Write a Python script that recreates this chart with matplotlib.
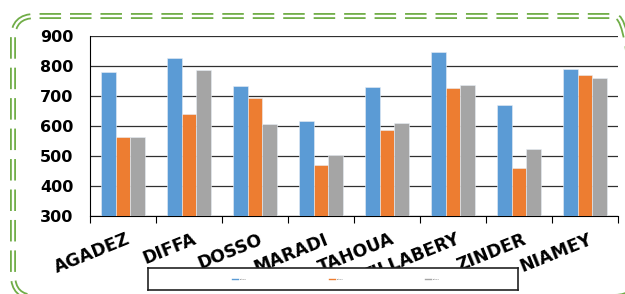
import matplotlib
matplotlib.use("Agg")
import matplotlib.pyplot as plt
import numpy as np
from matplotlib.patches import FancyBboxPatch

categories = ["AGADEZ", "DIFFA", "DOSSO", "MARADI", "TAHOUA", "TILLABERY", "ZINDER", "NIAMEY"]
series_names = ["Série1", "Série2", "Série3"]
s1 = [780, 827, 733, 617, 730, 847, 670, 790]
s2 = [563, 640, 693, 470, 587, 727, 460, 770]
s3 = [563, 787, 607, 503, 610, 737, 523, 760]
colors = ["#5B9BD5", "#ED7D31", "#A5A5A5"]

W, H = 625, 294
fig = plt.figure(figsize=(W / 100, H / 100), dpi=100)
fig.patch.set_facecolor("white")

ax = fig.add_axes([90 / W, 1 - 216 / H, (618 - 90) / W, (216 - 36) / H])
x = np.arange(len(categories))
bw = 0.222
for i, (vals, c) in enumerate(zip([s1, s2, s3], colors)):
    ax.bar(x + (i - 1) * bw, np.array(vals) - 300, bottom=300, width=bw,
           color=c, edgecolor="#e8eef5", linewidth=0.4, zorder=3, label=series_names[i])

ax.set_xlim(-0.5, len(categories) - 0.5)
ax.set_ylim(300, 900)
ax.set_yticks(range(300, 901, 100))
ax.yaxis.grid(True, color="#303030", linewidth=0.9, zorder=0)
ax.set_axisbelow(True)
for s in ["top", "right"]:
    ax.spines[s].set_visible(False)
ax.spines["left"].set_color("black")
ax.spines["bottom"].set_color("black")
ax.tick_params(axis="y", length=0, pad=12)
ax.set_xticks(np.arange(-0.5, len(categories), 1.0))
ax.set_xticklabels([])
ax.tick_params(axis="x", which="major", direction="out", length=5, color="black")
for lab in ax.get_yticklabels():
    lab.set_fontfamily("DejaVu Sans")
    lab.set_fontweight("bold")
    lab.set_fontsize(11.5)

for i, name in enumerate(categories):
    ax.text(i + 0.05, 253, name, rotation=22, ha="right", va="top",
            rotation_mode="anchor", fontfamily="DejaVu Sans",
            fontweight="bold", fontsize=12.5, color="black",
            transform=ax.transData, clip_on=False)

# legend box
lax = fig.add_axes([148 / W, 1 - 290 / H, (518 - 148) / W, 22 / H])
lax.set_facecolor("white")
lax.set_xlim(0, 370)
lax.set_ylim(0, 22)
lax.set_xticks([])
lax.set_yticks([])
for s in lax.spines.values():
    s.set_linewidth(1.2)
    s.set_color("#222222")
for xc, c, nm in zip([87, 184, 280], colors, series_names):
    lax.plot([xc - 3, xc + 3], [11, 11], color=c, linewidth=1)
    lax.text(xc + 5, 11, nm, fontsize=1.5, va="center", color="#555555")

# green double dashed rounded border (inch coordinates)
for lw, col, ls in [(4.3, "#70AD47", (0, (3.6, 1.5))), (1.7, "white", "-")]:
    box = FancyBboxPatch((0.13, -0.03), 6.24, 2.81,
                         boxstyle="round,pad=0,rounding_size=0.22",
                         transform=fig.dpi_scale_trans, fill=False,
                         edgecolor=col, linewidth=lw, linestyle=ls, zorder=10)
    fig.add_artist(box)

fig.savefig("out.png", dpi=100)
